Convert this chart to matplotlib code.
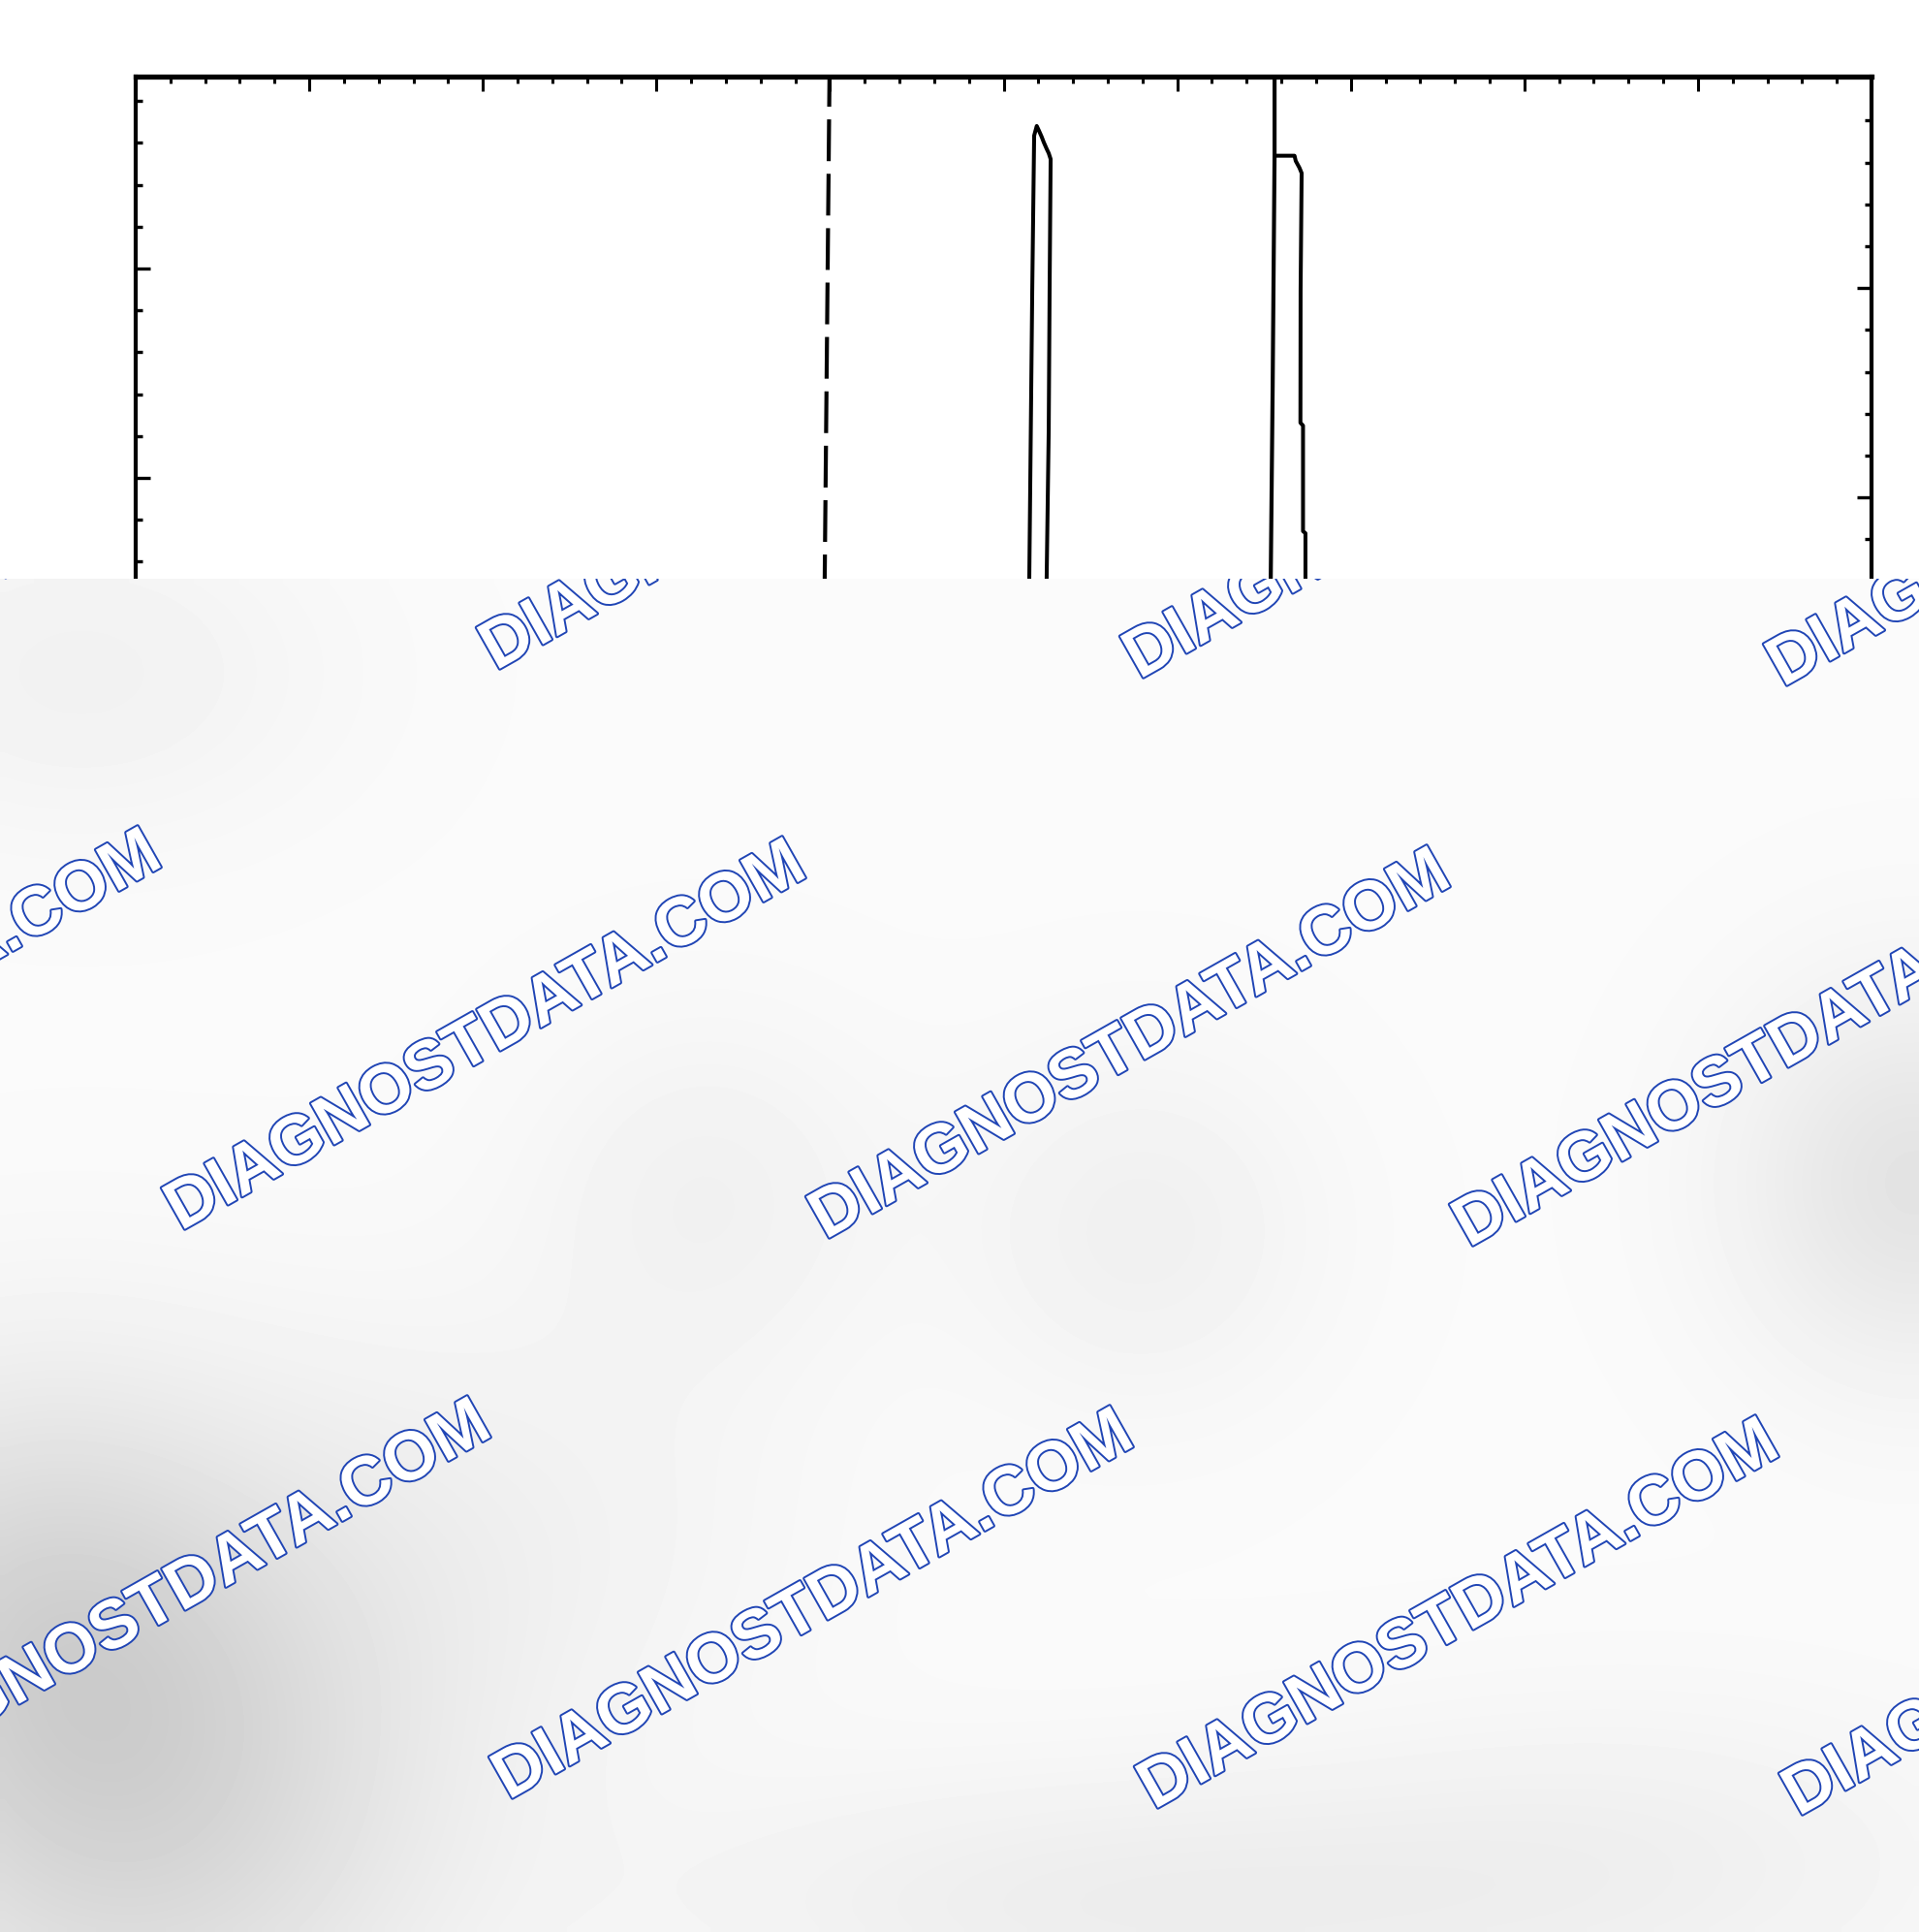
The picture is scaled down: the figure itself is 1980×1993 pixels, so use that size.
import numpy as np
import matplotlib
matplotlib.use("Agg")
import matplotlib.pyplot as plt
from matplotlib import patheffects as pe
from matplotlib.ticker import FixedLocator

plt.rcParams['lines.scale_dashes'] = False

# ---------------- data (scope divisions: x = time div, y = div below top edge) -------------
pulse1_x = [5.142, 5.148, 5.165, 5.176, 5.191, 5.204, 5.219, 5.232, 5.248, 5.260, 5.271,
            5.265, 5.260, 5.248, 5.248]
pulse1_y = [-2.597, -2.398, -1.023, -0.282, -0.236, -0.259, -0.287, -0.315, -0.345, -0.366,
            -0.394, -1.023, -1.685, -2.398, -2.597]

pulse2_edge_x = [6.561, 6.561, 6.550, 6.539, 6.539]
pulse2_edge_y = [0.042, -0.378, -1.486, -2.398, -2.597]

pulse2_top_x = [6.561, 6.676, 6.683, 6.704, 6.717, 6.711, 6.710, 6.725, 6.725, 6.739, 6.739, 6.739]
pulse2_top_y = [-0.378, -0.378, -0.403, -0.435, -0.461, -1.023, -1.653, -1.667, -2.171, -2.181,
                -2.398, -2.597]

cursor_x = [3.997, 3.900]
cursor_y = [0.0, -8.43]

x_major = list(range(0, 11))
x_minor = [i * 0.2 for i in range(0, 51)]
left_major = [-0.917 - k for k in range(0, 8)]
left_minor = [-0.117 - 0.2 * k for k in range(0, 42)]
right_major = [-1.01 - k for k in range(0, 8)]
right_minor = [-0.21 - 0.2 * k for k in range(0, 42)]

watermark_text = "DIAGNOSTDATA.COM"
watermark_centers = [(163, 486), (827, 493), (1491, 502), (2155, 510),
                     (-163, 1060), (502, 1071), (1167, 1080), (1831, 1088),
                     (177, 1648), (840, 1658), (1506, 1668), (2171, 1675)]

# ---------------- figure ----------------
W, H = 1980, 1993
fig = plt.figure(figsize=(W / 100, H / 100), dpi=100)
fig.patch.set_facecolor('white')

left_px, right_px, top_px, bot_px = 140, 1931, 79, 1900
ax = fig.add_axes([left_px / W, 1 - bot_px / H, (right_px - left_px) / W, (bot_px - top_px) / H])
ax.set_xlim(0, 10)
ax.set_ylim(-(bot_px - top_px) / 216.0, 0)
ax.set_facecolor('white')

ax.spines['top'].set_linewidth(3.8)
ax.spines['left'].set_linewidth(3.0)
ax.spines['right'].set_linewidth(3.0)
ax.spines['bottom'].set_visible(False)

ax.xaxis.set_major_locator(FixedLocator(x_major))
ax.xaxis.set_minor_locator(FixedLocator(x_minor))
ax.yaxis.set_major_locator(FixedLocator(left_major))
ax.yaxis.set_minor_locator(FixedLocator(left_minor))
ax.tick_params(axis='x', which='both', direction='in', top=True, bottom=False,
               labeltop=False, labelbottom=False, width=2.2, color='black')
ax.tick_params(axis='x', which='major', length=11)
ax.tick_params(axis='x', which='minor', length=5)
ax.tick_params(axis='y', which='both', direction='in', left=True, right=False,
               labelleft=False, width=2.4, color='black')
ax.tick_params(axis='y', which='major', length=11)
ax.tick_params(axis='y', which='minor', length=5)

tw = ax.twinx()
tw.set_ylim(ax.get_ylim())
for s in tw.spines.values():
    s.set_visible(False)
tw.yaxis.set_major_locator(FixedLocator(right_major))
tw.yaxis.set_minor_locator(FixedLocator(right_minor))
tw.tick_params(axis='y', which='both', direction='in', right=True, left=False,
               labelright=False, width=2.4, color='black')
tw.tick_params(axis='y', which='major', length=11)
tw.tick_params(axis='y', which='minor', length=5)

ax.plot(cursor_x, cursor_y, color='black', lw=3.0, linestyle=(8.6, (31, 9.4)),
        solid_capstyle='butt')
ax.plot(pulse1_x, pulse1_y, color='black', lw=2.9)
ax.plot(pulse2_edge_x, pulse2_edge_y, color='black', lw=3.0)
ax.plot(pulse2_top_x, pulse2_top_y, color='black', lw=2.9)

# ---------------- watermark overlay (covers the lower part) ----------------
y0 = 597
ov = fig.add_axes([0, 0, 1, (H - y0) / H])
ov.set_xlim(0, W)
ov.set_ylim(H, y0)
ov.axis('off')

gx = np.linspace(0, W, 220)
gy = np.linspace(y0, H, 160)
GX, GY = np.meshgrid(gx, gy)
field = np.full(GX.shape, 0.982)
blobs = [(140, 1830, 210, 220, 0.15), (0, 1640, 160, 170, 0.07), (1980, 1220, 130, 140, 0.09),
         (730, 1230, 130, 130, 0.035), (1180, 1270, 130, 130, 0.04), (1150, 1970, 330, 100, 0.05),
         (80, 690, 180, 120, 0.035), (520, 1580, 220, 170, 0.03), (1700, 1920, 260, 120, 0.035)]
for cx, cy, sx, sy, a in blobs:
    field -= a * np.exp(-(((GX - cx) / sx) ** 2 + ((GY - cy) / sy) ** 2) / 2)
ov.imshow(field, cmap='gray', vmin=0, vmax=1, extent=[0, W, H, y0],
          interpolation='bilinear', aspect='auto', zorder=0)

for cx, cy in watermark_centers:
    t = ov.text(cx, cy, watermark_text, rotation=29.5, rotation_mode='anchor',
                ha='center', va='center', fontsize=51, fontweight='bold',
                family=['Liberation Sans', 'DejaVu Sans'], color='white', zorder=2,
                clip_on=True)
    t.set_path_effects([pe.Stroke(linewidth=2.8, foreground='#2045b5'), pe.Normal()])

fig.savefig('out.png', dpi=100, facecolor='white')
